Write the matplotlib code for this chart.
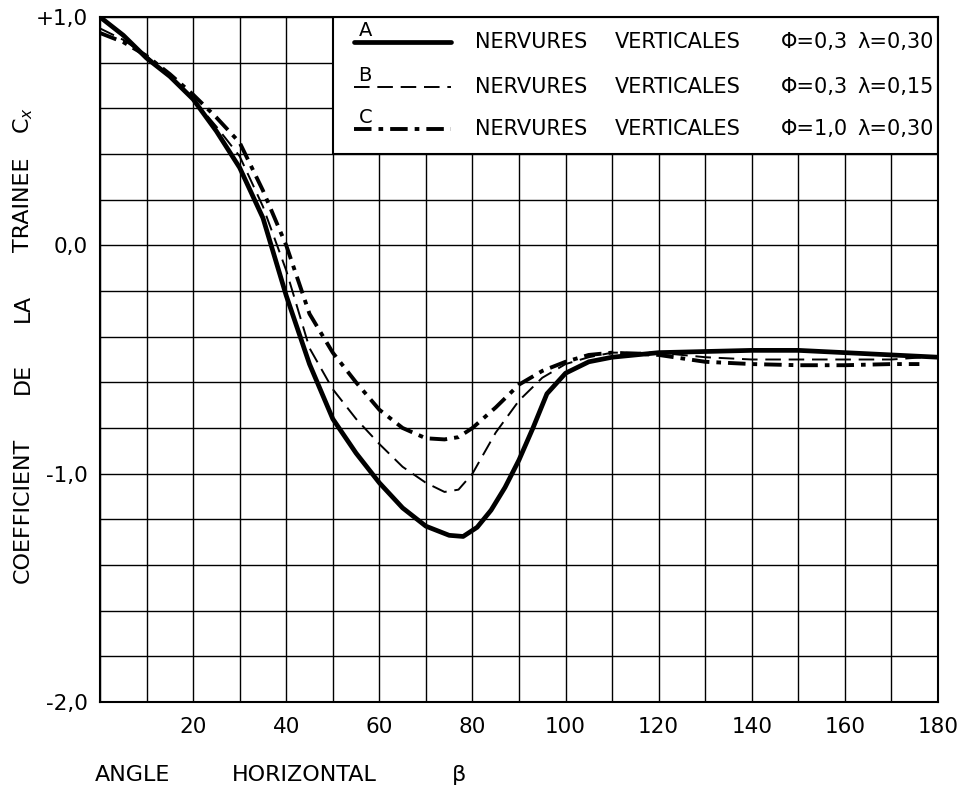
import matplotlib
matplotlib.use("Agg")
import matplotlib.pyplot as plt
from matplotlib.patches import Rectangle
from matplotlib.lines import Line2D

# ---- data ----
xa = [0, 5, 10, 15, 20, 25, 30, 35, 40, 45, 50, 55, 60, 65, 70, 75, 78, 81, 84, 87, 90, 93, 96, 100, 105, 110, 120, 130, 140, 150, 160, 170, 180]
ya = [1.0, 0.92, 0.82, 0.74, 0.64, 0.50, 0.34, 0.12, -0.22, -0.52, -0.76, -0.91, -1.04, -1.15, -1.23, -1.27, -1.275, -1.235, -1.16, -1.06, -0.94, -0.80, -0.65, -0.56, -0.51, -0.49, -0.47, -0.465, -0.46, -0.46, -0.47, -0.48, -0.49]

xb = [0, 5, 10, 15, 20, 25, 30, 35, 40, 45, 50, 55, 60, 65, 70, 74, 77, 80, 85, 90, 95, 100, 105, 110, 120, 130, 140, 150, 160, 170, 177]
yb = [0.95, 0.90, 0.83, 0.74, 0.64, 0.52, 0.39, 0.17, -0.11, -0.45, -0.63, -0.76, -0.87, -0.97, -1.04, -1.08, -1.07, -1.0, -0.82, -0.68, -0.58, -0.52, -0.49, -0.47, -0.47, -0.49, -0.50, -0.50, -0.50, -0.50, -0.49]

xc = [0, 5, 10, 15, 20, 25, 30, 35, 40, 45, 50, 55, 60, 65, 70, 74, 77, 80, 85, 90, 95, 100, 105, 110, 120, 130, 140, 150, 160, 170, 176]
yc = [0.93, 0.89, 0.83, 0.75, 0.66, 0.56, 0.45, 0.24, 0.0, -0.30, -0.47, -0.60, -0.72, -0.80, -0.845, -0.85, -0.84, -0.80, -0.71, -0.61, -0.55, -0.51, -0.48, -0.47, -0.48, -0.51, -0.52, -0.525, -0.525, -0.52, -0.52]

series_letters = ["A", "B", "C"]
legend_words = ["NERVURES", "VERTICALES"]
legend_phi = ["Φ=0,3", "Φ=0,3", "Φ=1,0"]
legend_lambda = ["λ=0,30", "λ=0,15", "λ=0,30"]

xtick_vals = [20, 40, 60, 80, 100, 120, 140, 160, 180]
xtick_labels = ["20", "40", "60", "80", "100", "120", "140", "160", "180"]
ytick_vals = [1.0, 0.0, -1.0, -2.0]
ytick_labels = ["+1,0", "0,0", "-1,0", "-2,0"]

ylabel_words = ["COEFFICIENT", "DE", "LA", "TRAINEE", "C$_{x}$"]
xlabel_words = ["ANGLE", "HORIZONTAL", "β"]

# ---- figure ----
plt.rcParams['font.family'] = ['DejaVu Sans']
fig = plt.figure(figsize=(9.63, 7.87), dpi=100)
ax = fig.add_axes([100/963, 1 - 702/787, 838/963, 685/787])
ax.set_xlim(0, 180)
ax.set_ylim(-2.0, 1.0)

ax.set_xticks(xtick_vals)
ax.set_xticklabels(xtick_labels, fontsize=15.5)
ax.set_yticks(ytick_vals)
ax.set_yticklabels(ytick_labels, fontsize=15.5)
ax.set_xticks([i * 10 for i in range(19)], minor=True)
ax.set_yticks([-2.0 + i * 0.2 for i in range(16)], minor=True)
ax.tick_params(which='both', length=0)
ax.tick_params(axis='x', pad=11)
ax.tick_params(axis='y', pad=9)
ax.set_axisbelow(True)
ax.grid(which='both', color='black', linewidth=1.0)
for s in ax.spines.values():
    s.set_linewidth(1.5)
    s.set_color('black')

# legend box covering the grid
ax.add_patch(Rectangle((50, 0.4), 130, 0.6, facecolor='white', edgecolor='black',
                       linewidth=1.5, zorder=1.5))

styles = [
    dict(color='black', linewidth=3.4, linestyle='-', solid_capstyle='round', solid_joinstyle='round'),
    dict(color='black', linewidth=1.4, linestyle=(0, (8, 4))),
    dict(color='black', linewidth=2.8, linestyle=(0, (4.5, 1.8, 1.2, 1.8))),
]
ax.plot(xa, ya, zorder=3, **styles[0])
ax.plot(xb, yb, zorder=3, **styles[1])
ax.plot(xc, yc, zorder=3, **styles[2])

row_y = [0.89, 0.695, 0.51]
for i in range(3):
    ax.add_line(Line2D([54.5, 75.5], [row_y[i], row_y[i]], zorder=3, **styles[i]))
    ax.text(55.5, row_y[i] + 0.008, series_letters[i], fontsize=14, ha='left', va='bottom', zorder=4)
    ax.text(80.6, row_y[i], legend_words[0], fontsize=15, ha='left', va='center', zorder=4)
    ax.text(110.6, row_y[i], legend_words[1], fontsize=15, ha='left', va='center', zorder=4)
    ax.text(146.3, row_y[i], legend_phi[i], fontsize=15, ha='left', va='center', zorder=4)
    ax.text(162.6, row_y[i], legend_lambda[i], fontsize=15, ha='left', va='center', zorder=4)

# axis labels (word positions)
ylabel_centers = [510, 378, 308, 205, 120]
for w, py in zip(ylabel_words, ylabel_centers):
    fig.text(23/963, 1 - py/787, w, rotation=90, fontsize=16, ha='center', va='center')
xlabel_lefts = [95, 232, 452]
for w, px in zip(xlabel_words, xlabel_lefts):
    fig.text(px/963, 1 - 775/787, w, fontsize=16, ha='left', va='center')

fig.savefig("out.png", dpi=100)
